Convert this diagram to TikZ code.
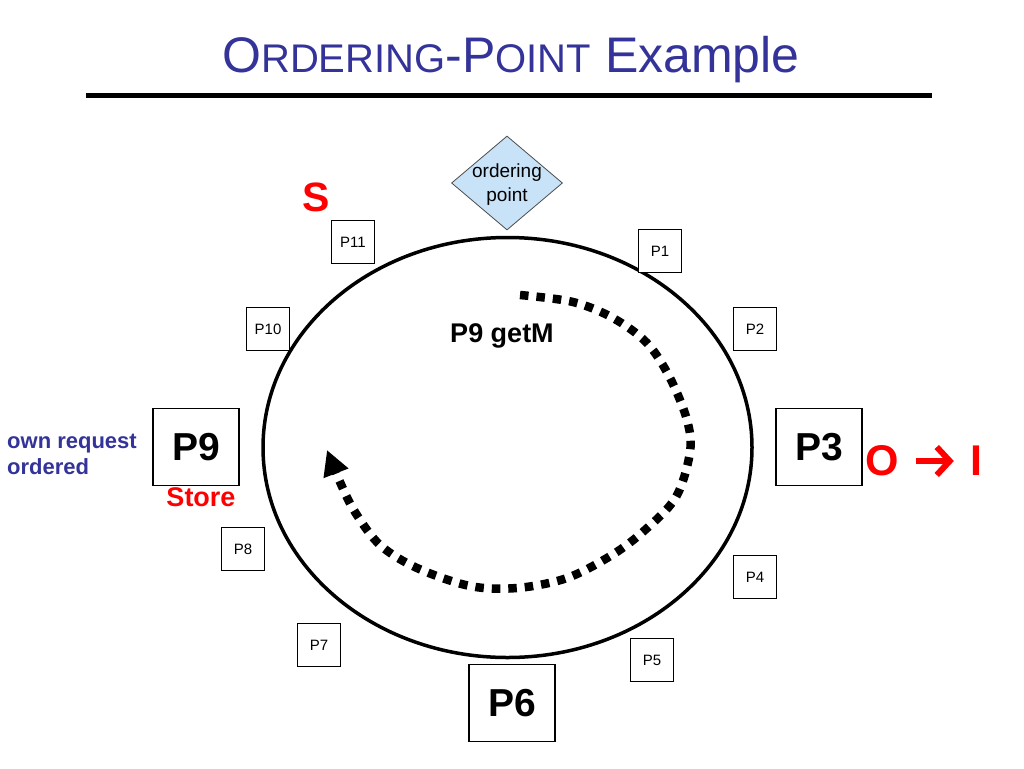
\documentclass[tikz,border=0pt]{standalone}
\usepackage{fontspec}
\setmainfont{Liberation Sans}
\usetikzlibrary{shapes.geometric,arrows.meta}
\definecolor{titleblue}{RGB}{51,51,153}
\definecolor{opfill}{RGB}{200,226,248}
\definecolor{redtxt}{RGB}{255,0,0}
\begin{document}
\begin{tikzpicture}[x=1pt,y=-1pt,
  pbox/.style={draw, fill=white, line width=1.2pt, minimum width=43pt, minimum height=43pt, inner sep=0pt, font=\fontsize{15}{18}\selectfont},
  bigbox/.style={draw, fill=white, line width=1.2pt, minimum width=86pt, minimum height=77pt, inner sep=0pt, font=\fontsize{39}{44}\selectfont\bfseries},
  redlbl/.style={text=redtxt, font=\fontsize{#1}{#1}\selectfont\bfseries, inner sep=0pt},
  opdiamond/.style={diamond, draw=black!70, line width=0.8pt, fill=opfill, minimum width=111pt, minimum height=94pt, inner sep=0pt},
  flow/.style={line width=8.5pt, dash pattern=on 8.5pt off 8pt, -{Triangle[length=25pt,width=25pt]}},
]
\useasboundingbox (0,0) rectangle (1024,768);
% title
\node[text=titleblue, font=\fontsize{50}{60}\selectfont, anchor=base, inner sep=0pt] (title) at (511,72)
  {O{\fontsize{40}{48}\selectfont RDERING}-P{\fontsize{40}{48}\selectfont OINT} Example};
\coordinate (rl) at (86,95);
\coordinate (rr) at (932,95);
\draw[line width=5pt] (rl) -- (rr);
% ring
\node[draw, ellipse, line width=3.5pt, minimum width=489pt, minimum height=420pt, inner sep=0pt] (ring) at (507.5,447.5) {};
% ordering point
\node[opdiamond] (op) at (507,183) {};
\node[font=\fontsize{19}{24}\selectfont, align=center, inner sep=0pt] (optext) at (507,185) {ordering\\point};
% processors
\node[pbox] (p11) at (353,242) {P11};
\node[pbox] (p1) at (660,251) {P1};
\node[pbox] (p10) at (268,329) {P10};
\node[pbox] (p2) at (755,329) {P2};
\node[pbox] (p8) at (243,549) {P8};
\node[pbox] (p4) at (755,577) {P4};
\node[pbox] (p7) at (319,645) {P7};
\node[pbox] (p5) at (652,660) {P5};
\node[bigbox] (p9) at (196,447) {P9};
\node[bigbox] (p3) at (819,447) {P3};
\node[bigbox] (p6) at (512,703) {P6};
% labels
\node[redlbl=41] (S) at (316,197) {S};
\node[font=\fontsize{27}{30}\selectfont\bfseries, inner sep=0pt] (getm) at (502,336) {P9 getM};
\node[text=titleblue, font=\fontsize{22}{26}\selectfont\bfseries, align=left, anchor=west, inner sep=0pt] (own) at (7,454) {own request\\ordered};
\node[redlbl=27] (store) at (201,497) {Store};
\node[redlbl=43] (oO) at (882,461) {O};
\node[redlbl=43] (oI) at (976,461) {I};
\draw[redtxt, line width=6pt, -{Straight Barb[length=13pt,width=28pt,line width=6pt]}, shorten <=17pt, shorten >=16pt] (oO.east) -- (oI.west);
% request path
\draw[flow] plot[smooth, tension=0.55] coordinates {(520,295) (573,302) (613,318) (647,343) (670,378) (687,420) (690,452) (676,497) (645,530) (612,555) (567,578) (517,588) (470,586) (417,568) (380,545) (355,512) (340,482) (327,450)};
\end{tikzpicture}
\end{document}
